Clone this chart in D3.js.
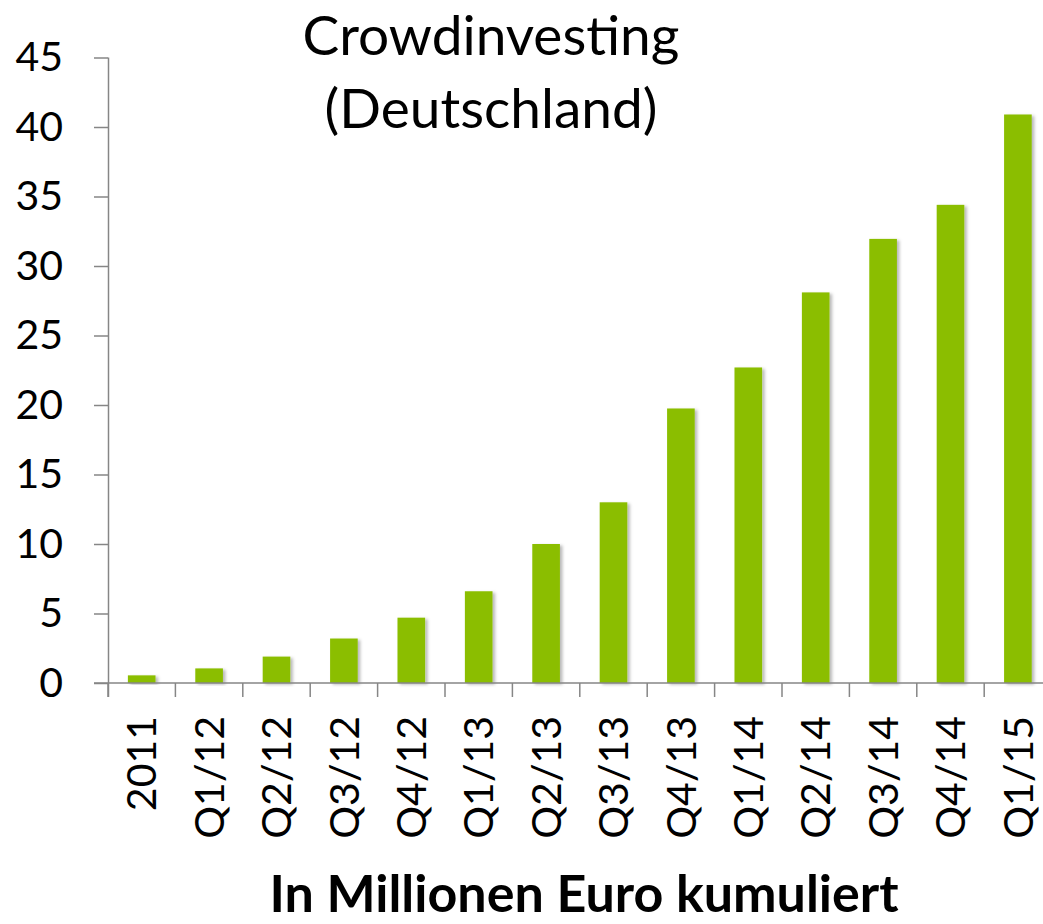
<!DOCTYPE html>
<html>
<head>
<meta charset="utf-8">
<script src="https://cdn.jsdelivr.net/npm/d3@7"></script>
<style>
  body { margin: 0; background: #fff; }
  svg { display: block; font-family: Lato, "Open Sans", sans-serif; }
</style>
</head>
<body>
<div id="chart"></div>
<script>
// Crowdinvesting in Deutschland, in Mio. Euro kumuliert
const categories = ["2011", "Q1/12", "Q2/12", "Q3/12", "Q4/12", "Q1/13", "Q2/13",
  "Q3/13", "Q4/13", "Q1/14", "Q2/14", "Q3/14", "Q4/14", "Q1/15"];
const values = [0.55, 1.05, 1.9, 3.2, 4.7, 6.6, 10.0, 13.0, 19.75, 22.7, 28.1, 31.95, 34.4, 40.9];
const yTicks = [0, 5, 10, 15, 20, 25, 30, 35, 40, 45];

const width = 1043,
  height = 924,
  plotLeft = 108,
  step = 67.4,
  plotTop = 57.5,
  plotBottom = 683;

const svg = d3.select("#chart")
  .append("svg")
  .attr("width", width)
  .attr("height", height);

const defs = svg.append("defs");
defs.append("filter")
  .attr("id", "shadow")
  .attr("x", "-20%").attr("y", "-5%")
  .attr("width", "150%").attr("height", "120%")
  .append("feDropShadow")
  .attr("dx", 2.5).attr("dy", 1.5)
  .attr("stdDeviation", 1.5)
  .attr("flood-color", "#000")
  .attr("flood-opacity", 0.28);

const x = d3.scaleBand()
  .domain(categories)
  .range([plotLeft, plotLeft + step * categories.length])
  .paddingInner(0.59)
  .paddingOuter(0.295);

const y = d3.scaleLinear()
  .domain([0, 45])
  .range([plotBottom, plotTop]);

// bars
svg.append("g")
  .selectAll("rect")
  .data(values)
  .join("rect")
  .attr("x", (d, i) => x(categories[i]))
  .attr("y", d => y(d))
  .attr("width", x.bandwidth())
  .attr("height", d => y(0) - y(d))
  .attr("fill", "#8bbe00")
  .attr("filter", "url(#shadow)");

// y axis
const yAxis = svg.append("g")
  .attr("transform", `translate(${plotLeft},0)`)
  .call(d3.axisLeft(y).tickValues(yTicks).tickSize(14).tickPadding(31).tickSizeOuter(0));
yAxis.select(".domain").attr("stroke", "#868686").attr("stroke-width", 1.5)
  .attr("d", `M0.5,${plotTop}V${plotBottom + 14}`);
yAxis.selectAll(".tick line").attr("stroke", "#868686").attr("stroke-width", 1.5);
yAxis.selectAll(".tick text")
  .attr("font-size", 41)
  .attr("fill", "#000")
  .attr("font-family", "Lato");

// x axis line and category boundary ticks
const xAxis = svg.append("g");
xAxis.append("line")
  .attr("x1", plotLeft - 14).attr("x2", width)
  .attr("y1", plotBottom).attr("y2", plotBottom)
  .attr("stroke", "#868686").attr("stroke-width", 1.5);
xAxis.selectAll(".bound")
  .data(categories)
  .join("line")
  .attr("class", "bound")
  .attr("x1", d => x(d) - x.step() * x.paddingOuter())
  .attr("x2", d => x(d) - x.step() * x.paddingOuter())
  .attr("y1", plotBottom).attr("y2", plotBottom + 14)
  .attr("stroke", "#868686").attr("stroke-width", 1.5);

// rotated category labels
xAxis.selectAll(".lab")
  .data(categories)
  .join("text")
  .attr("class", "lab")
  .attr("transform", d => `translate(${x(d) + x.bandwidth() / 2},716) rotate(-90)`)
  .attr("text-anchor", "end")
  .attr("dy", "0.36em")
  .attr("font-size", 41)
  .text(d => d);

// title
svg.append("text")
  .attr("text-anchor", "middle")
  .attr("font-size", 55)
  .selectAll("tspan")
  .data(["Crowdinvesting", "(Deutschland)"])
  .join("tspan")
  .attr("x", 491)
  .attr("y", (d, i) => 55 + i * 73)
  .text(d => d);

// unit label
svg.append("text")
  .attr("x", 584)
  .attr("y", 912)
  .attr("text-anchor", "middle")
  .attr("font-size", 52)
  .attr("font-weight", "bold")
  .text("In Millionen Euro kumuliert");
</script>
</body>
</html>
